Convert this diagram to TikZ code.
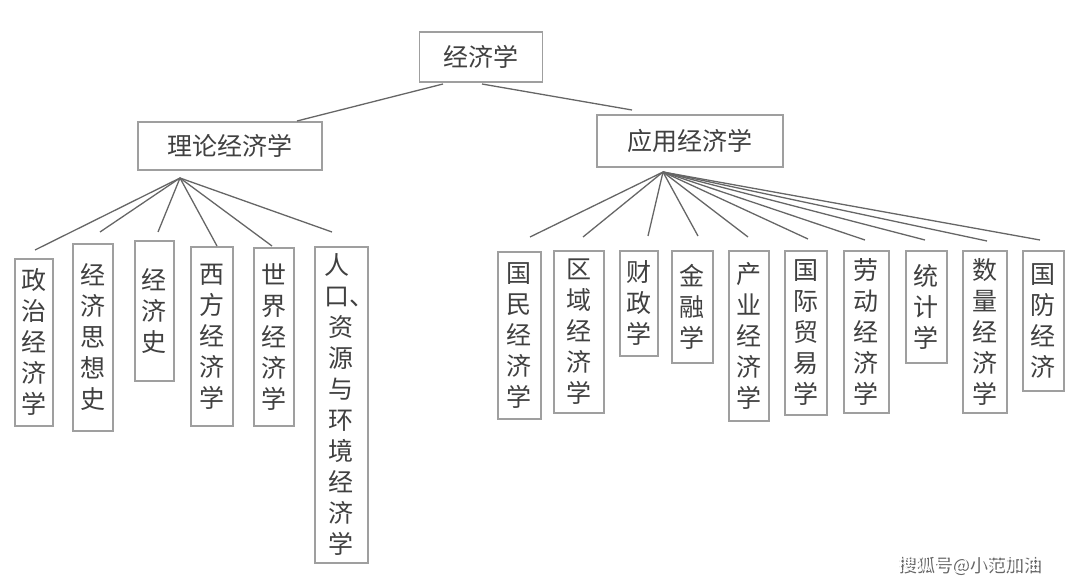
\documentclass[tikz,border=0pt]{standalone}
\usepackage{fontspec}
\newfontfamily\cjk{Noto Sans CJK SC}
\begin{document}
\begin{tikzpicture}[x=1pt,y=-1pt,
  box/.style={draw=gray!75, line width=1.6pt, fill=white, text=black!75, font=\cjk\fontsize{25}{31}\selectfont, inner sep=0pt},
  leaf/.style={box, anchor=north west, align=center},
  link/.style={gray!80!black, line width=1.3pt}]
  \useasboundingbox (0,0) rectangle (1080,588);
  % top levels
  \node[box, minimum width=123, minimum height=50] (jjx) at (481,57) {经济学};
  \node[box, minimum width=184, minimum height=48] (llx) at (230,146) {理论经济学};
  \node[box, minimum width=186, minimum height=52] (yyx) at (690,141) {应用经济学};
  \coordinate (jl) at (443,84);
  \coordinate (jr) at (482,84);
  \coordinate (lh) at (180,178);
  \coordinate (yh) at (663,172);
  \draw[link] (jl) -- (297,121);
  \draw[link] (jr) -- (632,110);

  % left leaves
  \node[leaf, minimum width=38, minimum height=167] (l1) at (14,258) {政\\治\\经\\济\\学};
  \node[leaf, minimum width=40, minimum height=187] (l2) at (72,243) {经\\济\\思\\想\\史};
  \node[leaf, minimum width=39, minimum height=140] (l3) at (134,240) {经\\济\\史};
  \node[leaf, minimum width=42, minimum height=179] (l4) at (190,246) {西\\方\\经\\济\\学};
  \node[leaf, minimum width=40, minimum height=178] (l5) at (253,247) {世\\界\\经\\济\\学};
  \node[leaf, minimum width=53, minimum height=316, text width=53] (l6) at (314,246) {\hspace*{-8pt}人\\\hspace*{-8pt}口\rlap{、}\\资\\源\\与\\环\\境\\经\\济\\学};
  \foreach \p/\q in {35/250, 100/232, 158/232, 217/246, 272/246, 332/232}
    \draw[link] (lh) -- (\p,\q);

  % right leaves
  \node[leaf, minimum width=43, minimum height=167] (r1) at (497,251) {国\\民\\经\\济\\学};
  \node[leaf, minimum width=50, minimum height=162] (r2) at (553,250) {区\\域\\经\\济\\学};
  \node[leaf, minimum width=38, minimum height=105] (r3) at (619,250) {财\\政\\学};
  \node[leaf, minimum width=41, minimum height=112] (r4) at (671,250) {金\\融\\学};
  \node[leaf, minimum width=40, minimum height=170] (r5) at (728,250) {产\\业\\经\\济\\学};
  \node[leaf, minimum width=42, minimum height=164] (r6) at (784,250) {国\\际\\贸\\易\\学};
  \node[leaf, minimum width=45, minimum height=162] (r7) at (843,250) {劳\\动\\经\\济\\学};
  \node[leaf, minimum width=41, minimum height=112] (r8) at (905,250) {统\\计\\学};
  \node[leaf, minimum width=44, minimum height=162] (r9) at (962,250) {数\\量\\经\\济\\学};
  \node[leaf, minimum width=41, minimum height=140] (r10) at (1022,250) {国\\防\\经\\济};
  \foreach \p/\q in {530/237, 583/237, 648/236, 698/236, 748/237, 808/239, 865/240, 925/240, 987/241, 1040/240}
    \draw[link] (yh) -- (\p,\q);

  % watermark
  \node[font=\cjk\fontsize{18}{20}\selectfont, text=gray!80!black] (wms) at (971,566) {搜狐号@小范加油};
  \node[font=\cjk\fontsize{18}{20}\selectfont, text=white] (wm) at (969,564) {搜狐号@小范加油};
\end{tikzpicture}
\end{document}
